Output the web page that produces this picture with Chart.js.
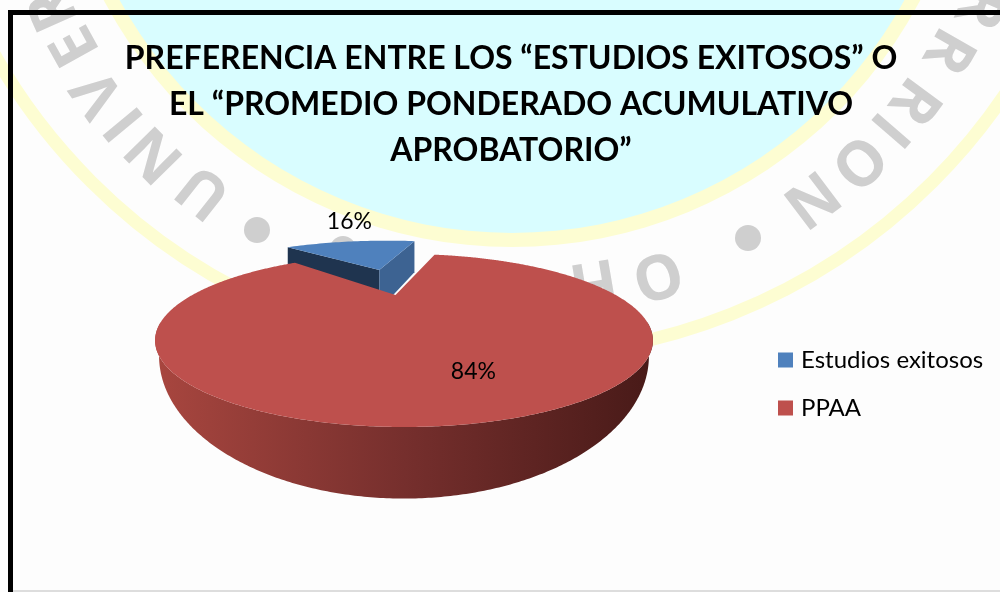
<!DOCTYPE html>
<html>
<head>
<meta charset="utf-8">
<style>html,body{margin:0;padding:0;background:#fff}canvas{display:block}</style>
<script src="https://cdn.jsdelivr.net/npm/chart.js@4"></script>
</head>
<body>
<canvas id="c" width="1000" height="592"></canvas>
<script>
const categories = ["Estudios exitosos", "PPAA"];
const shares = [16, 84];
const titleLines = [
  "PREFERENCIA ENTRE LOS “ESTUDIOS EXITOSOS” O",
  "EL “PROMEDIO PONDERADO ACUMULATIVO",
  "APROBATORIO”"
];
const sliceColors = ["#4F81BD", "#BE504D"];

// Background stamp: letters sit on a circle round (512,-197)
const stampGlyphs = [
  ["U",205,190],["N",156,153],["I",126,122],["V",100,92],["E",77,45],["R",55,8],
  ["R",978,6],["R",947,50],["R",913,100],["I",888,128],["O",857,160],["N",810,197],
  ["O",657,273],["H",593,280]
];
const stampDots = [[257,230],[748,238],[343,249]];

// Perspective of the pie top (disc coordinates u,v to the page)
const P = {x0:404, a:211.7, c:295, b:92.6, k:0.526};
const project = (u,v) => {
  const w = 1 + P.k*v;
  return [P.x0 + P.a*u/w, (P.c + P.b*v)/w];
};
const EXPLODE = 0.53, BLUE_R = 1.09, RED_SHIFT = -0.04;

const backdrop = {
  id:'backdrop',
  beforeDraw(chart){
    const g = chart.ctx;
    g.save();
    g.fillStyle = '#fdfdfd'; g.fillRect(0,0,1000,592);
    // outer ring
    g.strokeStyle = '#fdfdd2'; g.lineWidth = 13;
    g.beginPath(); g.arc(512,-239,595,0,Math.PI*2); g.stroke();
    // yellow band and cyan disc
    g.fillStyle = '#fdfdd2';
    g.beginPath(); g.arc(512,-214,461,0,Math.PI*2); g.fill();
    g.fillStyle = '#d9fdff';
    g.beginPath(); g.arc(512,-214,447,0,Math.PI*2); g.fill();
    // stamp letters
    g.fillStyle = '#cfcfcf';
    g.font = '700 62px "Open Sans"';
    g.textAlign = 'center'; g.textBaseline = 'middle';
    for (const [t,x,y] of stampGlyphs){
      const phi = Math.atan2(y+197, x-512);
      g.save(); g.translate(x,y); g.rotate(phi+Math.PI/2); g.fillText(t,0,0); g.restore();
    }
    for (const [x,y] of stampDots){
      g.beginPath(); g.arc(x,y,13,0,Math.PI*2); g.fill();
    }
    // frame
    g.fillStyle = '#000';
    g.fillRect(8,10,992,5);
    g.fillRect(8,10,5,582);
    g.fillStyle = '#dddddd';
    g.fillRect(13,590,987,2);
    g.restore();
  },
  afterLayout(chart){
    const l = chart.legend;
    const w = l.width, h = l.height;
    l.left = 758; l.right = 758+w; l.top = 324; l.bottom = 324+h;
  }
};

const pie3d = {
  id:'pie3d',
  beforeDatasetsDraw(chart){
    const g = chart.ctx;
    const arcs = chart.getDatasetMeta(0).data;
    const blue = arcs[0], red = arcs[1];
    g.save();

    // exploded slice
    const bMid = (blue.startAngle+blue.endAngle)/2;
    const au = Math.cos(bMid)*EXPLODE, av = -Math.sin(bMid)*EXPLODE;
    const apex = project(au,av);
    const rim = [];
    for (let i=0;i<=40;i++){
      const a = blue.startAngle + (blue.endAngle-blue.startAngle)*i/40;
      rim.push(project(au+BLUE_R*Math.cos(a), av-BLUE_R*Math.sin(a)));
    }
    const L = rim[0], R = rim[rim.length-1];
    const drop = p => [p[0], p[1] + 31 + (p[1]-241)*0.31];
    const poly = (pts,fill) => {
      g.beginPath(); pts.forEach((p,i)=> i?g.lineTo(p[0],p[1]):g.moveTo(p[0],p[1]));
      g.closePath(); g.fillStyle = fill; g.fill();
    };
    poly([L,apex,drop(apex),drop(L)], '#1F344F');
    poly([apex,R,drop(R),drop(apex)], '#3D6392');
    poly([apex,...rim], sliceColors[0]);

    // main slice walls
    const top = [];
    for (let i=0;i<=720;i++){
      const a = red.startAngle + (red.endAngle-red.startAngle)*i/720;
      top.push(project(Math.cos(a), -Math.sin(a)));
    }
    const front = top.filter(p => p[1] > 322);
    const low = p => [P.x0 + (p[0]-P.x0)*0.984, 355 + (p[1]-340)*1.65];
    const grad = g.createLinearGradient(155,0,653,0);
    grad.addColorStop(0,'#A8463F');
    grad.addColorStop(0.5,'#762F2D');
    grad.addColorStop(1,'#481A18');
    poly([...front, ...front.slice().reverse().map(low)], grad);

    // main slice top
    poly([[P.x0 + P.a*RED_SHIFT, P.c], ...top], sliceColors[1]);

    // value labels
    g.fillStyle = '#000';
    g.font = '23px Lato';
    g.textAlign = 'center'; g.textBaseline = 'middle';
    const bm = project(au+BLUE_R*Math.cos(bMid), av-BLUE_R*Math.sin(bMid));
    g.fillText(shares[0]+'%', bm[0]-2, bm[1]-20);
    const rMid = (red.startAngle+red.endAngle)/2;
    const rm = project(0.77*Math.cos(rMid), -0.77*Math.sin(rMid));
    g.fillText(shares[1]+'%', rm[0]-5, rm[1]+1);
    g.restore();
    return false;
  }
};

new Chart(document.getElementById('c'),{
  type:'pie',
  data:{labels:categories,datasets:[{data:shares,backgroundColor:sliceColors,borderWidth:0,offset:[40,0]}]},
  options:{
    responsive:false,
    animation:false,
    rotation:-45,
    layout:{padding:{left:22,right:0,top:0,bottom:0}},
    plugins:{
      tooltip:{enabled:false},
      title:{display:true,text:titleLines,color:'#000',
        font:{family:'Lato',size:32,weight:'bold',lineHeight:1.4375},
        padding:{top:36,bottom:0}},
      legend:{position:'right',align:'start',
        labels:{boxWidth:7,boxHeight:7,padding:24,color:'#000',font:{family:'Lato',size:24},
          generateLabels:()=>categories.map((t,i)=>({text:t,fillStyle:sliceColors[i],strokeStyle:sliceColors[i],lineWidth:8,index:i}))}}
    }
  },
  plugins:[backdrop,pie3d]
});
</script>
</body>
</html>
